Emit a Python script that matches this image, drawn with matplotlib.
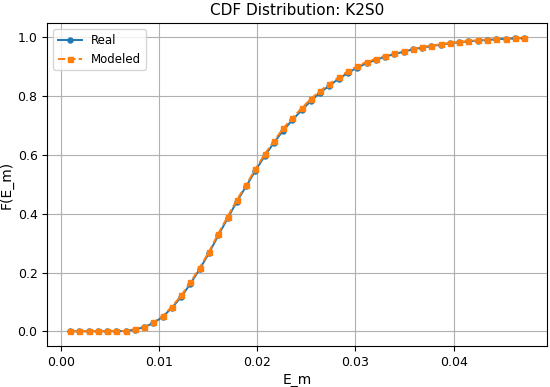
import numpy as np
import matplotlib
matplotlib.use("Agg")
import matplotlib.pyplot as plt

# E_m grid (50 points)
e_m = [0.00095, 0.00189, 0.00284, 0.00378, 0.00472, 0.00567, 0.00661, 0.00755,
       0.00850, 0.00944, 0.01038, 0.01133, 0.01227, 0.01321, 0.01416, 0.01510,
       0.01604, 0.01699, 0.01793, 0.01887, 0.01982, 0.02076, 0.02170, 0.02265,
       0.02359, 0.02453, 0.02548, 0.02642, 0.02736, 0.02831, 0.02925, 0.03019,
       0.03114, 0.03208, 0.03302, 0.03397, 0.03491, 0.03585, 0.03680, 0.03774,
       0.03868, 0.03963, 0.04057, 0.04151, 0.04246, 0.04340, 0.04434, 0.04529,
       0.04623, 0.04716]

cdf_real = [0.0, 0.0, 0.0, 0.0, 0.0, 0.0004, 0.001, 0.006, 0.014, 0.028,
            0.049, 0.080, 0.117, 0.162, 0.212, 0.266, 0.326, 0.384, 0.441, 0.493,
            0.546, 0.596, 0.641, 0.683, 0.719, 0.752, 0.784, 0.812, 0.836, 0.859,
            0.879, 0.897, 0.912, 0.923, 0.934, 0.943, 0.951, 0.959, 0.965, 0.970,
            0.975, 0.980, 0.983, 0.986, 0.989, 0.991, 0.993, 0.995, 0.996, 0.997]

cdf_model = [0.0, 0.0, 0.0, 0.0, 0.0, 0.0005, 0.001, 0.007, 0.015, 0.030,
             0.052, 0.084, 0.122, 0.167, 0.217, 0.271, 0.332, 0.390, 0.447, 0.498,
             0.552, 0.602, 0.647, 0.690, 0.726, 0.759, 0.791, 0.818, 0.842, 0.864,
             0.885, 0.901, 0.917, 0.927, 0.937, 0.946, 0.954, 0.961, 0.967, 0.972,
             0.976, 0.981, 0.984, 0.987, 0.990, 0.992, 0.994, 0.995, 0.997, 0.998]

fig, ax = plt.subplots(figsize=(5.5, 3.87), dpi=100)
fig.subplots_adjust(left=0.086, right=0.994, top=0.94, bottom=0.106)

ax.plot(e_m, cdf_real, marker='o', markersize=3.6, linewidth=1.4, label='Real')
ax.plot(e_m, cdf_model, marker='s', markersize=3.6, linewidth=1.4,
        linestyle='--', label='Modeled')

ax.tick_params(labelsize=9)
ax.set_xlabel('E_m', fontsize=10, labelpad=3)
ax.set_ylabel('F(E_m)', fontsize=10, labelpad=3)
ax.set_title('CDF Distribution: K2S0', fontsize=11)
ax.grid(True)
ax.legend(loc='upper left', fontsize=8.5)

fig.savefig('out.png')
